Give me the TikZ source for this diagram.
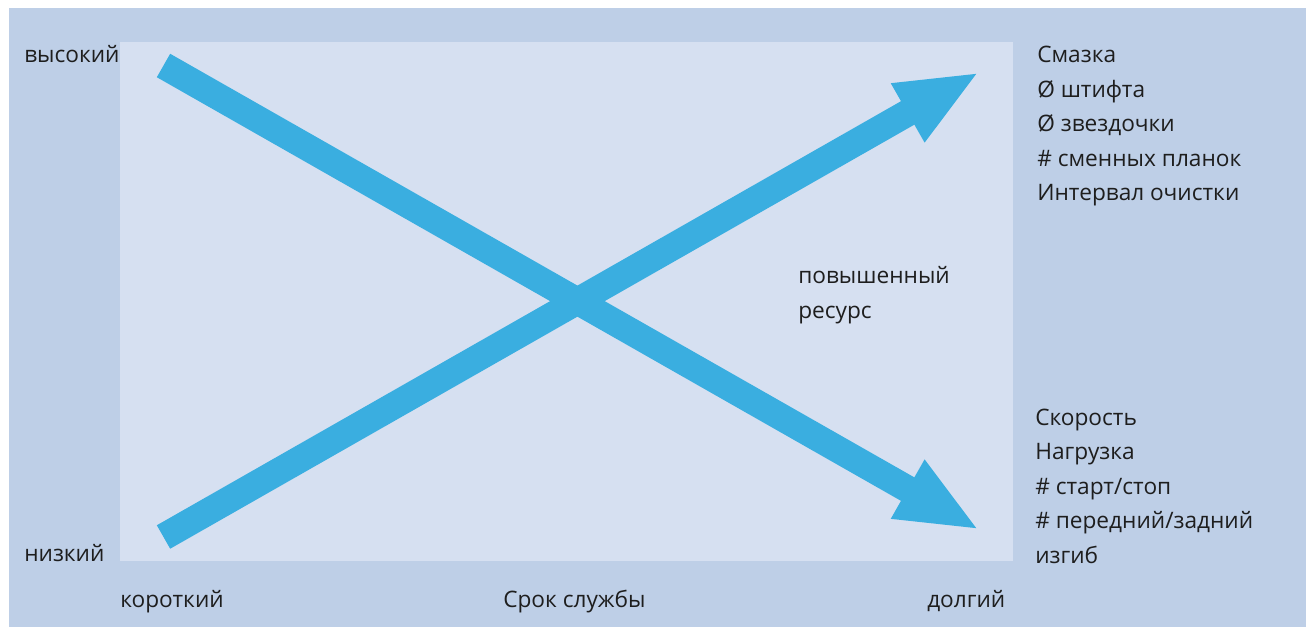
\documentclass[tikz,border=0pt]{standalone}
\usepackage{fontspec}
\setmainfont{Open Sans}
\usetikzlibrary{arrows.meta}
\definecolor{outerbg}{RGB}{190,207,231}
\definecolor{innerbg}{RGB}{214,224,241}
\definecolor{arrowblue}{RGB}{58,174,224}
\definecolor{txt}{RGB}{30,30,30}
\tikzset{
  lbl/.style={anchor=base west, inner sep=0pt, text=txt, font=\fontsize{17}{24}\selectfont},
  bigarrow/.style={draw=arrowblue, line width=20.25pt, line cap=butt,
    -{Triangle[length=62pt, width=46pt]}}
}
\begin{document}
\begin{tikzpicture}[x=0.75pt, y=-0.75pt]
\useasboundingbox (0,0) rectangle (1306,627);
\fill[white] (0,0) rectangle (1306,627);
\fill[outerbg] (9,8) rectangle (1306,627);
\fill[innerbg] (120,42) rectangle (1013,561);
% arrows
\coordinate (downtail) at (163.5,65.5);
\coordinate (downtip) at (979.5,530);
\coordinate (uptail) at (163.5,537);
\coordinate (uptip) at (979.5,72);
\draw[bigarrow] (downtail) -- (downtip);
\draw[bigarrow] (uptail) -- (uptip);
% axis labels
\node[lbl] (high) at (24,63) {высокий};
\node[lbl] (low) at (24,561) {низкий};
\node[lbl] (short) at (120,607) {короткий};
\node[lbl] (life) at (503,607) {Срок службы};
\node[lbl] (long) at (927,607) {долгий};
% middle label
\node[lbl] (inc1) at (798,284) {повышенный};
\node[lbl] (inc2) at (798,318) {ресурс};
% upper right list
\node[lbl] (r1) at (1037,63) {Смазка};
\node[lbl] (r2) at (1037,97.5) {Ø штифта};
\node[lbl] (r3) at (1037,132) {Ø звездочки};
\node[lbl] (r4) at (1037,166.5) {\# сменных планок};
\node[lbl] (r5) at (1037,201) {Интервал очистки};
% lower right list
\node[lbl] (s1) at (1035,425) {Скорость};
\node[lbl] (s2) at (1035,459.5) {Нагрузка};
\node[lbl] (s3) at (1035,494) {\# старт/стоп};
\node[lbl] (s4) at (1035,528.5) {\# передний/задний};
\node[lbl] (s5) at (1035,563) {изгиб};
\end{tikzpicture}
\end{document}
